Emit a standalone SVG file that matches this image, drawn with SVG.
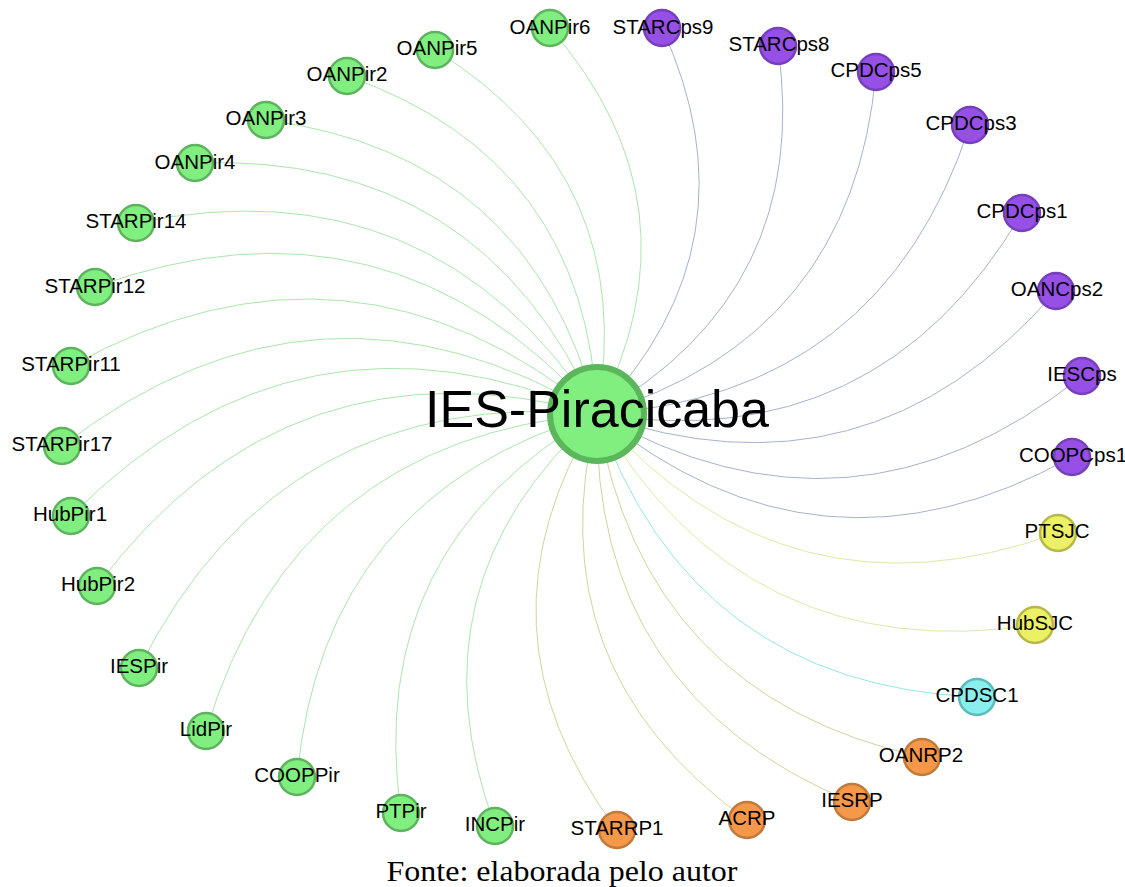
<svg xmlns="http://www.w3.org/2000/svg" width="1125" height="887" viewBox="0 0 1125 887">
<style>
.e{fill:none;stroke-width:1}
.eg{stroke:#ace6ac}
.ep{stroke:#a6b2cc}
.ey{stroke:#d8eca6}
.ec{stroke:#98e4e4}
.eo{stroke:#d6d29c}
.n{stroke-width:2.5}
.g{fill:#80ef80;stroke:#5eb45e}
.p{fill:#9650e6;stroke:#7640bc}
.y{fill:#ecf064;stroke:#b6b848}
.c{fill:#88eeee;stroke:#5cbcbc}
.o{fill:#f5984a;stroke:#c07a3c}
.l{font-family:"Liberation Sans",Arial,sans-serif;font-size:20.5px;fill:#000;text-anchor:middle}
</style>
<rect width="1125" height="887" fill="#fff"/>
<g id="connectors">
<path class="e eg" d="M597,414 Q704.7,205 550,28"/>
<path class="e eg" d="M597,414 Q639.8,176.9 435,50"/>
<path class="e eg" d="M597,414 Q586.9,160 347,76"/>
<path class="e eg" d="M597,414 Q531.5,154.5 266,120"/>
<path class="e eg" d="M597,414 Q481.3,151.8 195,163"/>
<path class="e eg" d="M597,414 Q431.4,161.8 136,223"/>
<path class="e eg" d="M597,414 Q389.2,179.8 95,287"/>
<path class="e eg" d="M597,414 Q350.3,211.2 71,366"/>
<path class="e eg" d="M597,414 Q318.6,248.1 62,446"/>
<path class="e eg" d="M597,414 Q299.3,286.2 71,516"/>
<path class="e eg" d="M597,414 Q288.5,330 97,586"/>
<path class="e eg" d="M597,414 Q281.6,385.3 139,668"/>
<path class="e eg" d="M597,414 Q293.7,439.6 206,731"/>
<path class="e eg" d="M597,414 Q323.6,493.5 297,777"/>
<path class="e eg" d="M597,414 Q363.3,546.9 401,813"/>
<path class="e eg" d="M597,414 Q405.9,585.3 495,826"/>
<path class="e eo" d="M597,414 Q465.6,628.8 617,830"/>
<path class="e eo" d="M597,414 Q534,668 747,820"/>
<path class="e eo" d="M597,414 Q592.6,694.7 852,802"/>
<path class="e eo" d="M597,414 Q642.9,696 922,757"/>
<path class="e ec" d="M597,414 Q690.8,684.7 977,697"/>
<path class="e ey" d="M597,414 Q744.3,668.4 1035,625"/>
<path class="e ey" d="M597,414 Q787,630.2 1058,533"/>
<path class="e ep" d="M597,414 Q819.9,597 1072,457"/>
<path class="e ep" d="M597,414 Q852.4,559.9 1082,376"/>
<path class="e ep" d="M597,414 Q868.3,508.6 1056,291"/>
<path class="e ep" d="M597,414 Q877.8,458 1022,213"/>
<path class="e ep" d="M597,414 Q881.8,396.3 970,125"/>
<path class="e ep" d="M597,414 Q852.8,337.9 876,72"/>
<path class="e ep" d="M597,414 Q812.6,291.5 778,46"/>
<path class="e ep" d="M597,414 Q760.7,243.1 662,28"/>
</g>
<g id="node-IES-Piracicaba"><circle cx="597" cy="414" r="47" fill="#80ef80" stroke="#5cb65c" stroke-width="6"/><text x="597" y="427" style="font-family:'Liberation Sans',Arial,sans-serif;font-size:52px;text-anchor:middle;fill:#000">IES-Piracicaba</text></g>
<g id="node-OANPir6"><circle class="n g" cx="550" cy="28" r="18"/><text class="l" x="550" y="34">OANPir6</text></g>
<g id="node-OANPir5"><circle class="n g" cx="435" cy="50" r="18"/><text class="l" x="437" y="55">OANPir5</text></g>
<g id="node-OANPir2"><circle class="n g" cx="347" cy="76" r="18"/><text class="l" x="347" y="81">OANPir2</text></g>
<g id="node-OANPir3"><circle class="n g" cx="266" cy="120" r="18"/><text class="l" x="266" y="125">OANPir3</text></g>
<g id="node-OANPir4"><circle class="n g" cx="195" cy="163" r="18"/><text class="l" x="195" y="169">OANPir4</text></g>
<g id="node-STARPir14"><circle class="n g" cx="136" cy="223" r="18"/><text class="l" x="136" y="228">STARPir14</text></g>
<g id="node-STARPir12"><circle class="n g" cx="95" cy="287" r="18"/><text class="l" x="95" y="293">STARPir12</text></g>
<g id="node-STARPir11"><circle class="n g" cx="71" cy="366" r="18"/><text class="l" x="71" y="371">STARPir11</text></g>
<g id="node-STARPir17"><circle class="n g" cx="62" cy="446" r="18"/><text class="l" x="62" y="451">STARPir17</text></g>
<g id="node-HubPir1"><circle class="n g" cx="71" cy="516" r="18"/><text class="l" x="70" y="521">HubPir1</text></g>
<g id="node-HubPir2"><circle class="n g" cx="97" cy="586" r="18"/><text class="l" x="98" y="591">HubPir2</text></g>
<g id="node-IESPir"><circle class="n g" cx="139" cy="668" r="18"/><text class="l" x="139" y="673">IESPir</text></g>
<g id="node-LidPir"><circle class="n g" cx="206" cy="731" r="18"/><text class="l" x="206" y="736">LidPir</text></g>
<g id="node-COOPPir"><circle class="n g" cx="297" cy="777" r="18"/><text class="l" x="297" y="782">COOPPir</text></g>
<g id="node-PTPir"><circle class="n g" cx="401" cy="813" r="18"/><text class="l" x="401" y="818">PTPir</text></g>
<g id="node-INCPir"><circle class="n g" cx="495" cy="826" r="18"/><text class="l" x="495" y="831">INCPir</text></g>
<g id="node-STARRP1"><circle class="n o" cx="617" cy="830" r="18"/><text class="l" x="617" y="835">STARRP1</text></g>
<g id="node-ACRP"><circle class="n o" cx="747" cy="820" r="18"/><text class="l" x="747" y="825">ACRP</text></g>
<g id="node-IESRP"><circle class="n o" cx="852" cy="802" r="18"/><text class="l" x="852" y="807">IESRP</text></g>
<g id="node-OANRP2"><circle class="n o" cx="922" cy="757" r="18"/><text class="l" x="921" y="762">OANRP2</text></g>
<g id="node-CPDSC1"><circle class="n c" cx="977" cy="697" r="18"/><text class="l" x="977" y="702">CPDSC1</text></g>
<g id="node-HubSJC"><circle class="n y" cx="1035" cy="625" r="18"/><text class="l" x="1035" y="630">HubSJC</text></g>
<g id="node-PTSJC"><circle class="n y" cx="1058" cy="533" r="18"/><text class="l" x="1057" y="538">PTSJC</text></g>
<g id="node-COOPCps1"><circle class="n p" cx="1072" cy="457" r="18"/><text class="l" x="1073" y="462">COOPCps1</text></g>
<g id="node-IESCps"><circle class="n p" cx="1082" cy="376" r="18"/><text class="l" x="1082" y="381">IESCps</text></g>
<g id="node-OANCps2"><circle class="n p" cx="1056" cy="291" r="18"/><text class="l" x="1057" y="296">OANCps2</text></g>
<g id="node-CPDCps1"><circle class="n p" cx="1022" cy="213" r="18"/><text class="l" x="1022" y="218">CPDCps1</text></g>
<g id="node-CPDCps3"><circle class="n p" cx="970" cy="125" r="18"/><text class="l" x="971" y="130">CPDCps3</text></g>
<g id="node-CPDCps5"><circle class="n p" cx="876" cy="72" r="18"/><text class="l" x="876" y="77">CPDCps5</text></g>
<g id="node-STARCps8"><circle class="n p" cx="778" cy="46" r="18"/><text class="l" x="779" y="51">STARCps8</text></g>
<g id="node-STARCps9"><circle class="n p" cx="662" cy="28" r="18"/><text class="l" x="663" y="34">STARCps9</text></g>
<text x="562" y="881" style="font-family:'Liberation Serif','Times New Roman',serif;font-size:30px;text-anchor:middle;fill:#000" textLength="351" lengthAdjust="spacingAndGlyphs">Fonte: elaborada pelo autor</text>
</svg>
